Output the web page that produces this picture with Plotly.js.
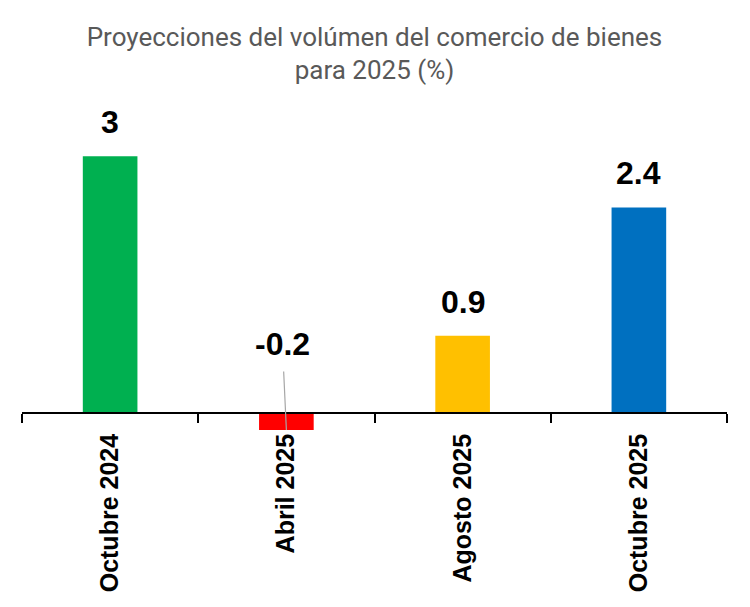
<!DOCTYPE html>
<html>
<head>
<meta charset="utf-8">
<script src="https://cdn.plot.ly/plotly-3.0.1.min.js"></script>
<style>html,body{margin:0;padding:0;background:#fff}#chart{width:750px;height:607px}</style>
</head>
<body>
<div id="chart"></div>
<script>
const categories = ['Octubre 2024', 'Abril 2025', 'Agosto 2025', 'Octubre 2025'];
const values = [3, -0.2, 0.9, 2.4];
const valueLabels = ['3', '-0.2', '0.9', '2.4'];
const barColors = ['#00B050', '#FF0000', '#FFC000', '#0070C0'];
const chartTitle = 'Proyecciones del volúmen del comercio de bienes<br>para 2025 (%)';

const yMin = -0.2, yMax = 3.656;
const zeroPos = (0 - yMin) / (yMax - yMin);

const trace = {
  type: 'bar',
  x: categories,
  y: values,
  width: 0.31,
  marker: {color: barColors, line: {width: 0}},
  hoverinfo: 'skip'
};

const annotations = categories.map((c, i) => {
  if (values[i] >= 0) {
    return {
      x: c, y: values[i], xref: 'x', yref: 'y',
      text: valueLabels[i], showarrow: false,
      yanchor: 'bottom', yshift: 14,
      font: {family: 'Liberation Sans, Arial, sans-serif', size: 32, color: '#000', weight: 'bold'}
    };
  }
  return {
    x: c, y: values[i], xref: 'x', yref: 'y',
    text: valueLabels[i], showarrow: true,
    arrowhead: 0, arrowwidth: 1.2, arrowcolor: '#A6A6A6',
    ax: -4, ay: -86, standoff: 0, startstandoff: 8,
    font: {family: 'Liberation Sans, Arial, sans-serif', size: 32, color: '#000', weight: 'bold'}
  };
});

const layout = {
  width: 750, height: 607,
  margin: {l: 22, r: 23, t: 100, b: 177, pad: 0},
  paper_bgcolor: '#fff', plot_bgcolor: '#fff',
  showlegend: false,
  title: {
    text: chartTitle, x: 0.5, xanchor: 'center', xref: 'paper',
    y: 0.925, yanchor: 'bottom', yref: 'container',
    font: {family: 'Roboto, Liberation Sans, sans-serif', size: 26, color: '#595959'}
  },
  xaxis: {
    type: 'category',
    anchor: 'free', position: zeroPos,
    showline: true, linecolor: '#000', linewidth: 2,
    ticks: 'outside', tickson: 'boundaries', ticklen: 9, tickwidth: 2, tickcolor: '#000',
    tickangle: -90, ticklabelstandoff: 10,
    tickfont: {family: 'Liberation Sans, Arial, sans-serif', size: 25, color: '#000', weight: 'bold'},
    showgrid: false, zeroline: false, fixedrange: true
  },
  yaxis: {
    range: [yMin, yMax],
    visible: false, showgrid: false, zeroline: false, fixedrange: true
  },
  annotations: annotations
};

Plotly.newPlot('chart', [trace], layout, {displayModeBar: false, staticPlot: true});
</script>
</body>
</html>
